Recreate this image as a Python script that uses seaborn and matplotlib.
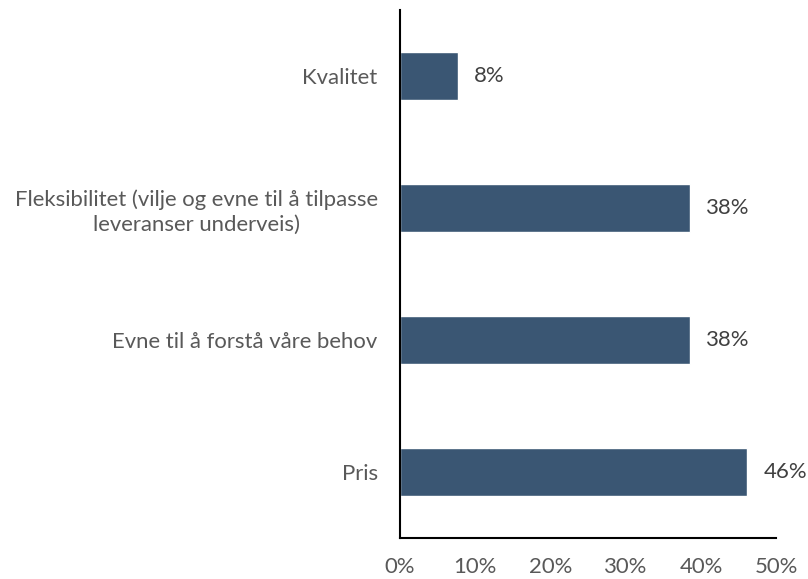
import matplotlib
matplotlib.use("Agg")
import matplotlib.pyplot as plt
import pandas as pd
import seaborn as sns

# survey answers, share of respondents in percent
categories = [
    "Kvalitet",
    "Fleksibilitet (vilje og evne til å tilpasse\nleveranser underveis)",
    "Evne til å forstå våre behov",
    "Pris",
]
shares = [7.69, 38.46, 38.46, 46.15]
value_labels = ["8%", "38%", "38%", "46%"]
tick_values = [0, 10, 20, 30, 40, 50]
tick_labels = ["0%", "10%", "20%", "30%", "40%", "50%"]

df = pd.DataFrame({"Kategori": categories, "Andel": shares})

sns.set_style("white")
plt.rcParams["font.family"] = ["Lato", "DejaVu Sans"]
text_color = "#595959"
bar_color = "#3A5673"
fs = 15.9

fig = plt.figure(figsize=(8.08, 5.79), dpi=100)
ax = fig.add_axes([0.495, 0.071, 0.466, 0.912])

sns.barplot(data=df, x="Andel", y="Kategori", color=bar_color,
            width=0.36, saturation=1, ax=ax)

for i, (v, lab) in enumerate(zip(shares, value_labels)):
    ax.annotate(lab, xy=(v, i), xytext=(11.5, 0), textcoords="offset points",
                ha="left", va="center", fontsize=fs, color="#404040")

ax.set_xlim(0, 50)
ax.set_ylim(3.5, -0.5)
ax.set_xticks(tick_values)
ax.set_xticklabels(tick_labels)
ax.set_xlabel("")
ax.set_ylabel("")

for lab in ax.get_yticklabels():
    lab.set_multialignment("center")
    lab.set_linespacing(1.3)

ax.tick_params(axis="x", direction="in", length=7, width=1.2, colors="black",
               labelcolor=text_color, labelsize=fs, pad=14)
ax.tick_params(axis="y", length=0, labelcolor=text_color, labelsize=fs, pad=16)

for side in ["top", "right"]:
    ax.spines[side].set_visible(False)
for side in ["left", "bottom"]:
    ax.spines[side].set_color("black")
    ax.spines[side].set_linewidth(1.5)

fig.savefig("out.png", dpi=100)
